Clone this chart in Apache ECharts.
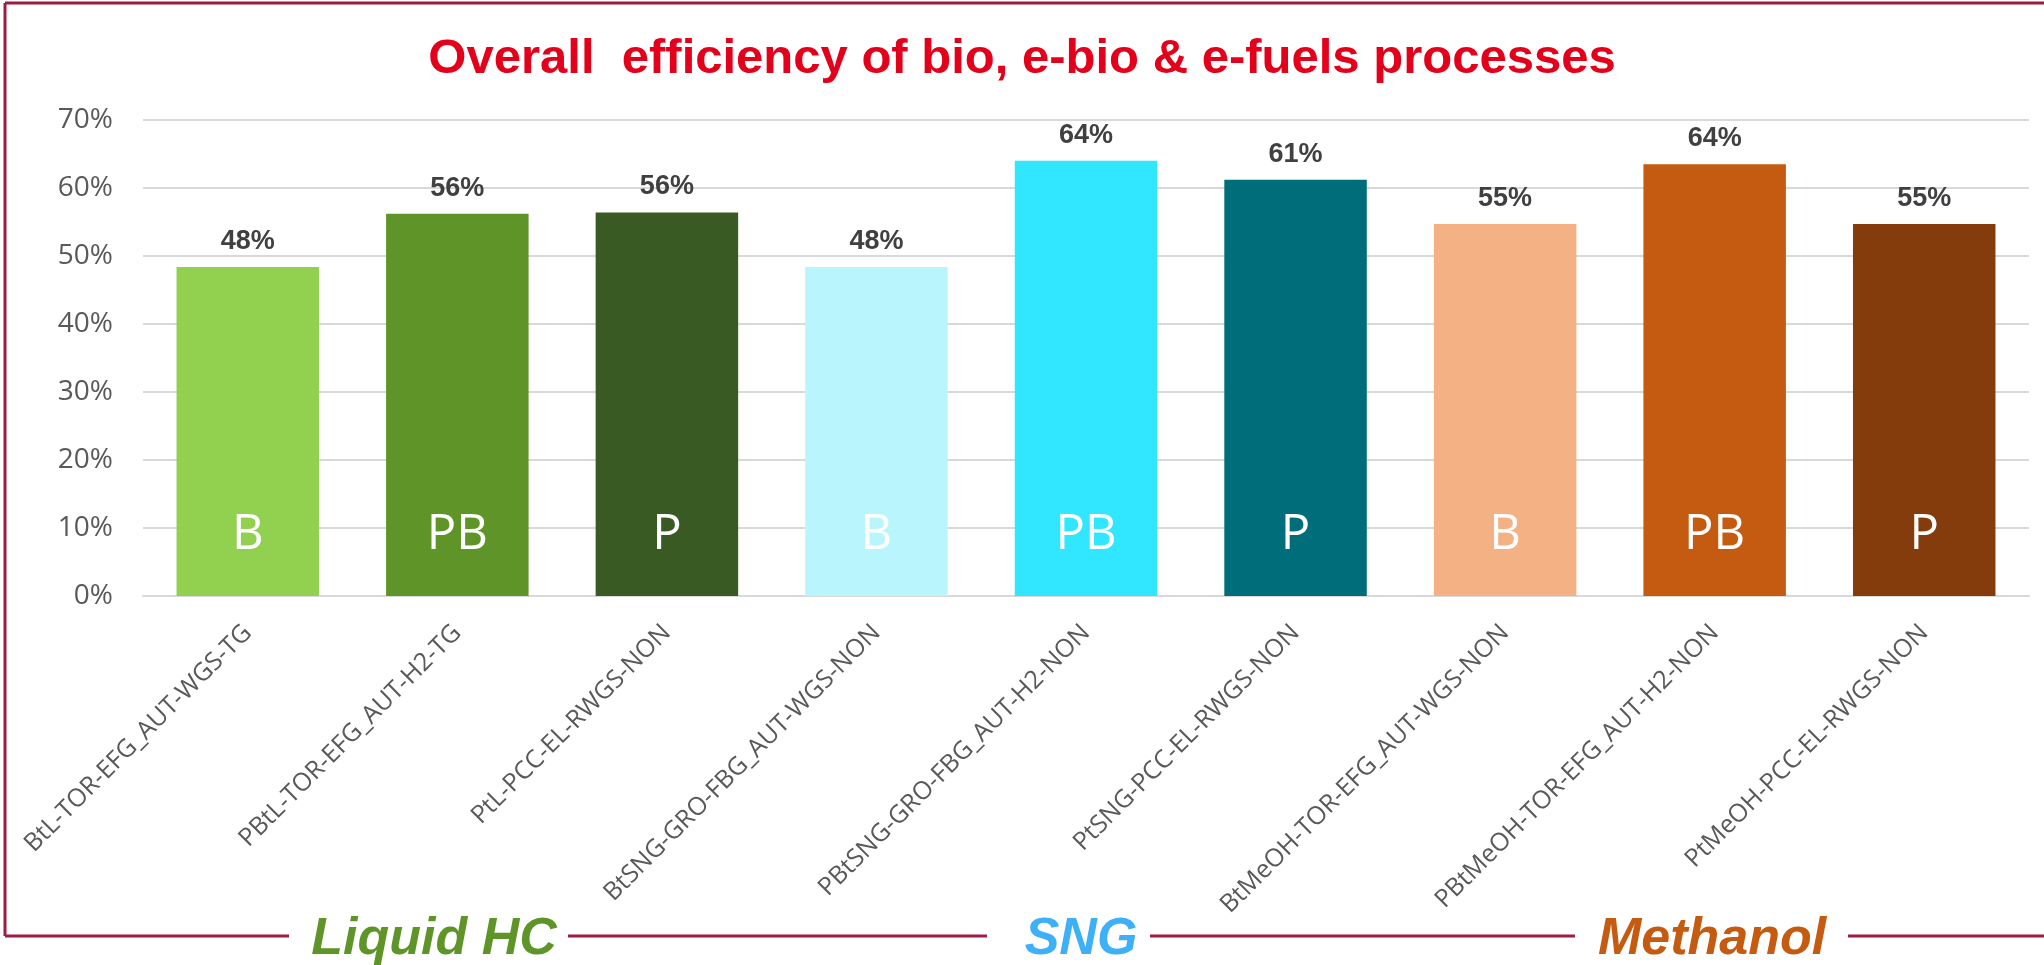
<!DOCTYPE html>
<html>
<head>
<meta charset="utf-8">
<title>Overall efficiency</title>
<script src="https://cdn.jsdelivr.net/npm/echarts@6/dist/echarts.min.js"></script>
<style>
  html, body { margin: 0; padding: 0; background: #fff; }
  #chart { width: 2044px; height: 965px; }
</style>
</head>
<body>
<div id="chart"></div>
<script>
// process routes (x axis)
const categories = [
  'BtL-TOR-EFG_AUT-WGS-TG',
  'PBtL-TOR-EFG_AUT-H2-TG',
  'PtL-PCC-EL-RWGS-NON',
  'BtSNG-GRO-FBG_AUT-WGS-NON',
  'PBtSNG-GRO-FBG_AUT-H2-NON',
  'PtSNG-PCC-EL-RWGS-NON',
  'BtMeOH-TOR-EFG_AUT-WGS-NON',
  'PBtMeOH-TOR-EFG_AUT-H2-NON',
  'PtMeOH-PCC-EL-RWGS-NON'
]
// overall efficiency in %
const efficiency = [48.4, 56.2, 56.4, 48.4, 64.0, 61.2, 54.7, 63.5, 54.7]
// B = bio, PB = e-bio, P = e-fuel
const routeTypes = ['B', 'PB', 'P', 'B', 'PB', 'P', 'B', 'PB', 'P']
const barColors = ['#92d050', '#5f9428', '#3a5a24', '#b8f5fc', '#31e7ff', '#006e7a', '#f4b183', '#c55a11', '#843c0c']
const groups = ['Liquid HC', 'SNG', 'Methanol']
const groupColors = ['#5f9428', '#3db0f7', '#c55a11']

const borderColor = '#9e1b42'
const chart = echarts.init(document.getElementById('chart'))

const groupX = [434, 1081, 1712]
const graphics = [
  // frame: top, left and bottom (broken by the group names)
  { type: 'line', shape: { x1: 5, y1: 3, x2: 2044, y2: 3 }, style: { stroke: borderColor, lineWidth: 3 } },
  { type: 'line', shape: { x1: 5, y1: 3, x2: 5, y2: 936 }, style: { stroke: borderColor, lineWidth: 3 } },
  { type: 'line', shape: { x1: 5, y1: 936, x2: 289, y2: 936 }, style: { stroke: borderColor, lineWidth: 3 } },
  { type: 'line', shape: { x1: 568, y1: 936, x2: 987, y2: 936 }, style: { stroke: borderColor, lineWidth: 3 } },
  { type: 'line', shape: { x1: 1150, y1: 936, x2: 1575, y2: 936 }, style: { stroke: borderColor, lineWidth: 3 } },
  { type: 'line', shape: { x1: 1848, y1: 936, x2: 2044, y2: 936 }, style: { stroke: borderColor, lineWidth: 3 } }
]
groups.forEach((g, i) => {
  graphics.push({
    type: 'text',
    x: groupX[i],
    y: 940,
    style: {
      text: g,
      fill: groupColors[i],
      font: 'italic bold 52px "Liberation Sans", Arial, sans-serif',
      textAlign: 'center',
      textVerticalAlign: 'middle'
    }
  })
})

const option = {
  animation: false,
  backgroundColor: '#fff',
  title: {
    text: 'Overall  efficiency of bio, e-bio & e-fuels processes',
    left: 'center',
    top: 30,
    textStyle: {
      color: '#e3001b',
      fontSize: 49,
      fontWeight: 'bold',
      fontFamily: '"Liberation Sans", Arial, sans-serif'
    }
  },
  grid: {
    left: 143,
    right: 15,
    top: 120,
    bottom: 369
  },
  xAxis: {
    type: 'category',
    data: categories,
    axisTick: { show: false },
    axisLine: { lineStyle: { color: '#d9d9d9', width: 2 } },
    axisLabel: {
      interval: 0,
      rotate: 45,
      margin: 33,
      color: '#595959',
      fontSize: 25,
      fontFamily: '"Open Sans", sans-serif'
    }
  },
  yAxis: {
    type: 'value',
    min: 0,
    max: 70,
    interval: 10,
    axisLabel: {
      formatter: '{value}%',
      margin: 30,
      color: '#595959',
      fontSize: 28,
      fontFamily: '"Open Sans", sans-serif'
    },
    splitLine: { lineStyle: { color: '#d9d9d9', width: 2 } }
  },
  series: [
    {
      type: 'bar',
      barWidth: '68%',
      data: efficiency.map((v, i) => ({ value: v, itemStyle: { color: barColors[i] } })),
      label: {
        show: true,
        position: 'insideBottom',
        distance: 36,
        formatter: p => routeTypes[p.dataIndex],
        color: '#fff',
        fontSize: 49,
        fontFamily: '"Open Sans", sans-serif'
      }
    },
    {
      // transparent copy that only carries the value labels
      type: 'bar',
      barWidth: '68%',
      barGap: '-100%',
      silent: true,
      data: efficiency,
      itemStyle: { color: 'transparent' },
      label: {
        show: true,
        position: 'top',
        distance: 12,
        formatter: p => Math.round(p.value) + '%',
        color: '#404040',
        fontSize: 27,
        fontWeight: 'bold',
        fontFamily: '"Liberation Sans", Arial, sans-serif'
      }
    }
  ],
  graphic: graphics
}

chart.setOption(option)
</script>
</body>
</html>
